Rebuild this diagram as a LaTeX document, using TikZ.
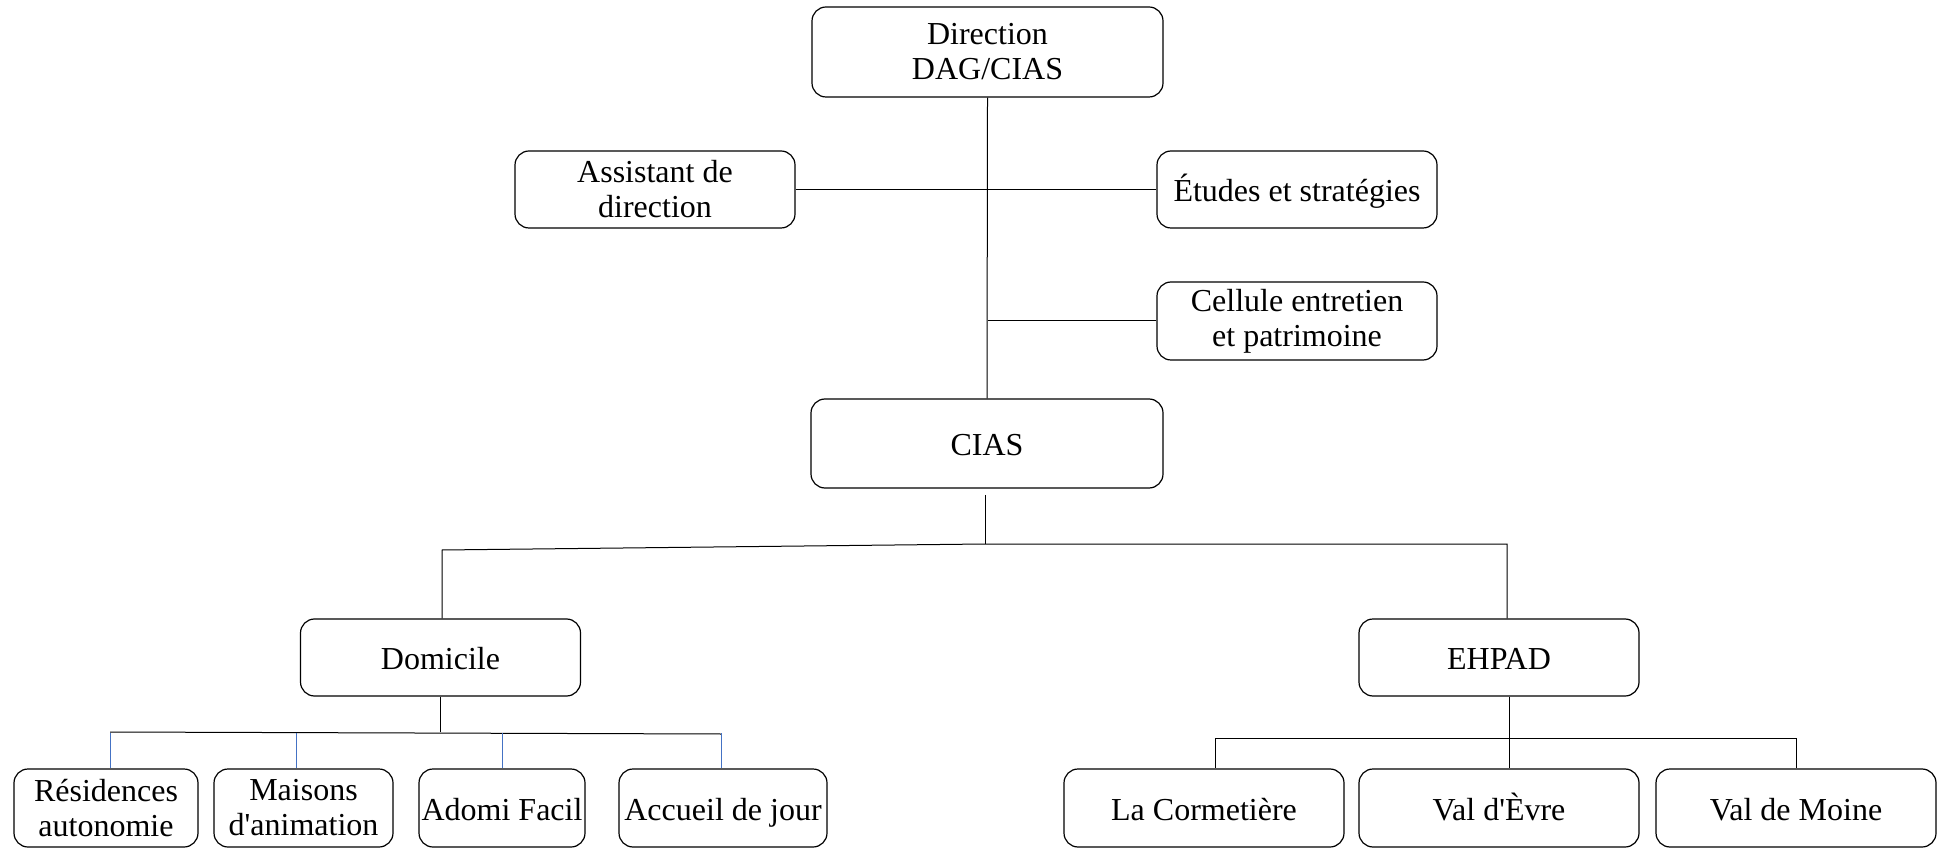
\documentclass[tikz,border=0pt]{standalone}
\usepackage{fontspec}
\setmainfont{Liberation Serif}[Ligatures=TeXOff]
\definecolor{dropblue}{HTML}{4472C4}
\tikzset{
    box/.style={draw, rounded corners=7pt, line width=0.6pt, align=center, inner sep=0pt,
        font=\fontsize{16}{17.5}\selectfont},
    oneline/.style={text height=15pt, text depth=3pt},
    link/.style={line width=0.5pt},
    drop/.style={line width=0.5pt, draw=dropblue}
}
\begin{document}
\begin{tikzpicture}[x=0.5pt,y=-0.5pt]
    \useasboundingbox (0,0) rectangle (1942,849);
    % top level
    \node[box, minimum width=175.5pt, minimum height=45pt] (dir) at (987.5,52) {Direction\\DAG/CIAS};
    \node[box, minimum width=140pt, minimum height=38.5pt] (assist) at (655,189.5) {Assistant de\\direction};
    \node[box, oneline, minimum width=140pt, minimum height=38.5pt] (etudes) at (1297,189.5) {Études et stratégies};
    \node[box, minimum width=140pt, minimum height=39pt] (cellule) at (1297,321) {Cellule entretien\\et patrimoine};
    \node[box, oneline, minimum width=176pt, minimum height=44.5pt] (cias) at (987,443.5) {CIAS};
    \draw[link] (dir.south) -- (cias.north);
    \draw[link] (assist.east) -- (etudes.west);
    \draw[link] (cellule.west) -- (cellule.west -| dir.south);
    % second level
    \node[box, oneline, minimum width=140pt, minimum height=38.5pt] (domicile) at (440.5,657.5) {Domicile};
    \node[box, oneline, minimum width=140pt, minimum height=38.5pt] (ehpad) at (1499,657.5) {EHPAD};
    \coordinate (ciastop) at (985,495);
    \coordinate (hub) at (985,544);
    \coordinate (hubl) at (442,550);
    \coordinate (hubr) at (1507,544);
    \draw[link] (ciastop) -- (hub);
    \draw[link] (hubl |- domicile.north) -- (hubl) -- (hub) -- (hubr) -- (hubr |- ehpad.north);
    % domicile services
    \node[box, minimum width=92pt, minimum height=39pt] (resid) at (106,808) {Résidences\\autonomie};
    \node[box, minimum width=89.5pt, minimum height=39pt] (maisons) at (303.5,808) {Maisons\\d'animation};
    \node[box, oneline, minimum width=83pt, minimum height=39pt] (adomi) at (502,808) {Adomi Facil};
    \node[box, oneline, minimum width=104pt, minimum height=39pt] (accueil) at (723,808) {Accueil de jour};
    \coordinate (dl) at (110,732);
    \coordinate (dr) at (721,734);
    \draw[link] (domicile.south) -- (domicile.south |- dl);
    \draw[link] (dl) -- (dr);
    \foreach \n/\x in {resid/110, maisons/296, adomi/502, accueil/721} {
        \coordinate (d\n) at (\x,733);
        \draw[drop] (d\n) -- (d\n |- \n.north);
    }
    % ehpad sites
    \node[box, oneline, minimum width=140pt, minimum height=39pt] (corm) at (1204,808) {La Cormetière};
    \node[box, oneline, minimum width=140pt, minimum height=39pt] (evre) at (1499,808) {Val d'Èvre};
    \node[box, oneline, minimum width=140pt, minimum height=39pt] (moine) at (1796,808) {Val de Moine};
    \coordinate (el) at (1215,738);
    \coordinate (er) at (1796,738);
    \coordinate (em) at (1509,738);
    \draw[link] (em |- ehpad.south) -- (em);
    \draw[link] (el) -- (er);
    \foreach \n/\x in {corm/1215, evre/1509, moine/1796} {
        \coordinate (e\n) at (\x,738);
        \draw[link] (e\n) -- (e\n |- \n.north);
    }
\end{tikzpicture}
\end{document}
